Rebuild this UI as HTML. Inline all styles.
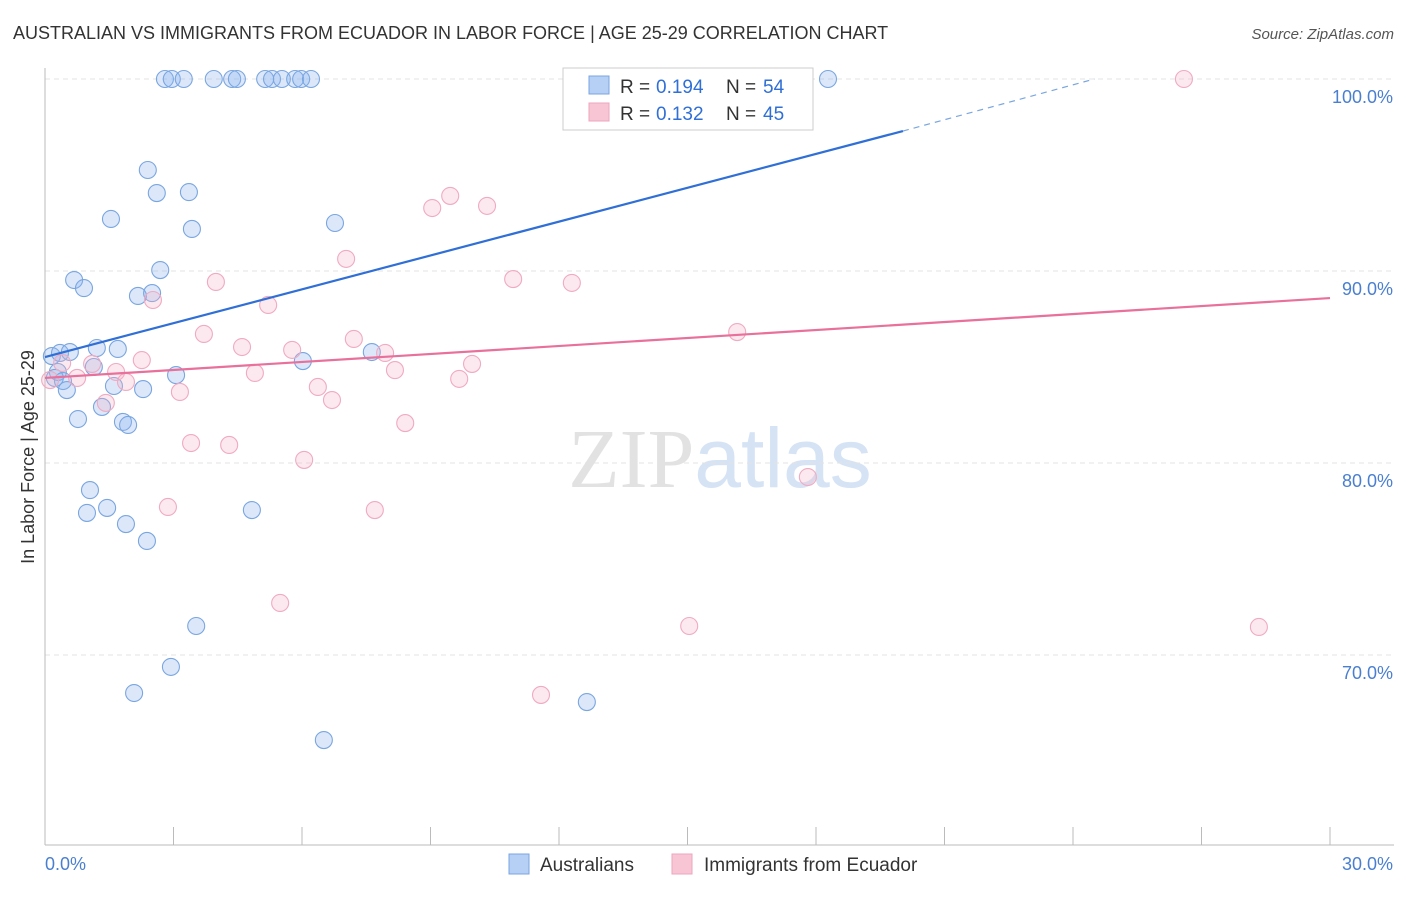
<!DOCTYPE html>
<html><head><meta charset="utf-8"><style>
body{margin:0;background:#fff;font-family:"Liberation Sans",sans-serif;}
svg text{font-family:"Liberation Sans",sans-serif;}
</style></head><body>
<svg id="c" width="1406" height="892" xmlns="http://www.w3.org/2000/svg">
<text x="13" y="39" font-size="18" fill="#333">AUSTRALIAN VS IMMIGRANTS FROM ECUADOR IN LABOR FORCE | AGE 25-29 CORRELATION CHART</text>
<text x="1394" y="39" font-size="15" fill="#555" text-anchor="end" font-style="italic">Source: ZipAtlas.com</text>
<text x="720" y="487" font-size="84" text-anchor="middle"><tspan fill="#e2e2e2" font-family="Liberation Serif">ZIP</tspan><tspan fill="#d5e3f5">atlas</tspan></text>
<g id="grid"></g><g id="axes"></g><g id="pts"></g><g id="lines"></g>
<text transform="translate(34,457) rotate(-90)" font-size="18" fill="#333" text-anchor="middle">In Labor Force | Age 25-29</text>
<g>
<rect x="563" y="68" width="250" height="62" fill="#fff" stroke="#ccc"/>
<rect x="589" y="76" width="20" height="18" fill="#b5cff5" stroke="#7aa6e0"/>
<text x="620" y="93" font-size="19" fill="#333">R =</text><text x="656" y="93" font-size="19" fill="#2f6fd6">0.194</text>
<text x="726" y="93" font-size="19" fill="#333">N =</text><text x="763" y="93" font-size="19" fill="#2f6fd6">54</text>
<rect x="589" y="103" width="20" height="18" fill="#f8c5d5" stroke="#eea5bd"/>
<text x="620" y="120" font-size="19" fill="#333">R =</text><text x="656" y="120" font-size="19" fill="#2f6fd6">0.132</text>
<text x="726" y="120" font-size="19" fill="#333">N =</text><text x="763" y="120" font-size="19" fill="#2f6fd6">45</text>
</g>
<g>
<rect x="509" y="854" width="20" height="20" fill="#b5cff5" stroke="#7aa6e0"/>
<text x="540" y="871" font-size="19" fill="#333">Australians</text>
<rect x="672" y="854" width="20" height="20" fill="#f8c5d5" stroke="#eea5bd"/>
<text x="704" y="871" font-size="19" fill="#333">Immigrants from Ecuador</text>
</g>
</svg>
<script>
const blueX=[2.80,2.96,3.24,3.94,4.37,4.48,5.14,5.30,5.53,5.84,5.98,6.21,18.28,2.40,2.61,3.36,1.54,3.43,6.77,2.69,0.68,0.91,2.17,2.50,0.16,0.35,0.58,1.21,1.70,1.14,0.30,0.23,0.42,0.51,1.61,2.29,3.06,6.02,7.63,0.77,1.33,1.82,1.94,1.05,0.98,1.45,1.89,2.38,4.83,3.53,2.94,2.08,12.65,6.51];
const blueY=[100,100,100,100,100,100,100,100,100,100,100,100,100,95.26,94.06,94.11,92.71,92.19,92.50,90.05,89.53,89.11,88.70,88.85,85.57,85.73,85.78,85.99,85.94,85.0,84.74,84.43,84.27,83.80,84.01,83.85,84.58,85.31,85.78,82.29,82.92,82.14,81.98,78.59,77.40,77.66,76.82,75.94,77.55,71.51,69.38,68.02,67.55,65.57];
const pinkX=[15.46,16.51,26.59,12.91,9.46,10.32,9.04,7.03,10.93,12.30,3.99,2.52,5.21,3.71,7.21,4.60,5.77,7.94,16.16,2.26,1.10,1.66,0.40,0.12,0.75,1.89,4.90,8.17,9.97,9.67,6.37,6.70,3.15,1.42,8.41,3.41,4.30,6.05,17.81,2.87,7.70,5.49,15.04,28.34,11.58];
const pinkY=[100,100,100,97.81,93.91,93.39,93.28,90.63,89.58,89.38,89.43,88.49,88.23,86.72,86.46,86.04,85.89,85.73,86.82,85.36,85.16,84.74,85.21,84.32,84.43,84.22,84.69,84.84,85.16,84.38,83.96,83.28,83.70,83.13,82.08,81.04,80.94,80.16,79.27,77.71,77.55,72.71,71.51,71.46,67.92];
const yTicks=[100,90,80,70];
const yTickLabels=["100.0%","90.0%","80.0%","70.0%"];
const xTicks=[0,3,6,9,12,15,18,21,24,27,30];
const blueTrend=[[0,85.52],[20.03,97.29],[24.5,100]];
const pinkTrend=[[0,84.43],[30,88.59]];
const NS="http://www.w3.org/2000/svg";
const sx=v=>45+v*1285/30, sy=v=>79+(100-v)*19.2;
function mk(t,a,p){const e=document.createElementNS(NS,t);for(const k in a)e.setAttribute(k,a[k]);document.getElementById(p).appendChild(e);return e;}
yTicks.forEach((t,i)=>{
 const g=mk('line',{x1:45,x2:1394,y1:sy(t),y2:sy(t),stroke:'#e3e3e3','stroke-dasharray':'5,4'},'grid');
 
 
 const l=mk('text',{x:1393,y:sy(t)+24,'font-size':18,fill:'#4a7fd0','text-anchor':'end'},'axes');
 
 
 l.textContent=yTickLabels[i];
});
let a=mk('line',{x1:45,x2:45,y1:68,y2:845,stroke:'#bbb'},'axes');


a=mk('line',{x1:45,x2:1394,y1:845,y2:845,stroke:'#bbb'},'axes');


xTicks.forEach(t=>{const e=mk('line',{x1:sx(t),x2:sx(t),y1:827,y2:845,stroke:'#bbb'},'axes');
 
 });
let t0=mk('text',{x:45,y:870,'font-size':18,fill:'#4a7fd0'},'axes');t0.textContent='0.0%';


let t1=mk('text',{x:1393,y:870,'font-size':18,fill:'#4a7fd0','text-anchor':'end'},'axes');t1.textContent='30.0%';


blueX.forEach((x,i)=>{const c=mk('circle',{cx:sx(x),cy:sy(blueY[i]),r:8.5,fill:'rgba(140,178,238,0.3)',stroke:'#7aa6e0','stroke-width':1.1},'pts');
 
 });
pinkX.forEach((x,i)=>{const c=mk('circle',{cx:sx(x),cy:sy(pinkY[i]),r:8.5,fill:'rgba(245,175,198,0.28)',stroke:'#f0aac2','stroke-width':1.1},'pts');
 
 });
let l1=mk('line',{x1:sx(blueTrend[0][0]),y1:sy(blueTrend[0][1]),x2:sx(blueTrend[1][0]),y2:sy(blueTrend[1][1]),stroke:'#2f6fd6','stroke-width':2.2},'lines');


let l2=mk('line',{x1:sx(blueTrend[1][0]),y1:sy(blueTrend[1][1]),x2:sx(blueTrend[2][0]),y2:sy(blueTrend[2][1]),stroke:'#7aa6e0','stroke-width':1.2,'stroke-dasharray':'6,5'},'lines');


let l3=mk('line',{x1:sx(pinkTrend[0][0]),y1:sy(pinkTrend[0][1]),x2:sx(pinkTrend[1][0]),y2:sy(pinkTrend[1][1]),stroke:'#e8709a','stroke-width':2.2},'lines');


</script>
</body></html>
